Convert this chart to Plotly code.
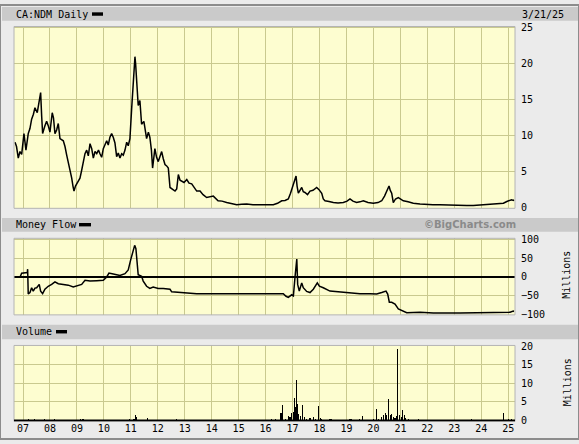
import plotly.graph_objects as go

W, H = 579, 444

# ---------------- data ----------------
price_dates = [
    "2006-09-15", "2006-10-05", "2006-10-29", "2006-11-21", "2006-12-14", "2007-01-14", "2007-02-10",
    "2007-03-13", "2007-04-05", "2007-04-28", "2007-05-22", "2007-06-12", "2007-07-13", "2007-08-05",
    "2007-08-28", "2007-09-11", "2007-09-24", "2007-10-25", "2007-11-17", "2007-12-09", "2008-01-01",
    "2008-02-01", "2008-02-18", "2008-03-09", "2008-04-01", "2008-04-23", "2008-05-16", "2008-06-30",
    "2008-07-23", "2008-08-15", "2008-09-09", "2008-09-29", "2008-10-22", "2008-11-08", "2008-11-22",
    "2008-12-12", "2008-12-28", "2009-01-22", "2009-02-11", "2009-03-06", "2009-03-28", "2009-04-20",
    "2009-05-13", "2009-06-04", "2009-06-27", "2009-07-20", "2009-08-11", "2009-09-03", "2009-09-26",
    "2009-10-20", "2009-11-09", "2009-12-02", "2009-12-24", "2010-01-16", "2010-02-08", "2010-03-01",
    "2010-03-24", "2010-04-16", "2010-05-08", "2010-05-31", "2010-06-23", "2010-07-15", "2010-08-07",
    "2010-08-30", "2010-09-21", "2010-10-14", "2010-11-06", "2010-11-27", "2010-12-20", "2011-01-12",
    "2011-02-03", "2011-02-17", "2011-02-26", "2011-03-07", "2011-03-20", "2011-03-31", "2011-04-11",
    "2011-05-04", "2011-05-27", "2011-06-27", "2011-07-17", "2011-08-03", "2011-08-27", "2011-09-16",
    "2011-10-07", "2011-10-23", "2011-11-23", "2011-12-16", "2012-01-08", "2012-01-31", "2012-02-23",
    "2012-03-16", "2012-04-08", "2012-05-01", "2012-05-23", "2012-06-15", "2012-07-19", "2012-08-22",
    "2012-09-14", "2012-10-06", "2012-10-29", "2012-11-21", "2012-12-22", "2013-01-28", "2013-02-28",
    "2013-04-05", "2013-05-06", "2013-06-12", "2013-07-27", "2013-09-06", "2013-10-25", "2013-12-09",
    "2014-01-23", "2014-03-28", "2014-05-21", "2014-07-23", "2014-09-29", "2014-12-06", "2015-02-11",
    "2015-04-20", "2015-07-14", "2015-10-17", "2016-01-16", "2016-04-15", "2016-06-11", "2016-08-07",
    "2016-09-21", "2016-11-04", "2016-12-04", "2017-01-12", "2017-02-01", "2017-02-17", "2017-03-03",
    "2017-03-20", "2017-04-12", "2017-05-05", "2017-05-26", "2017-06-18", "2017-07-22", "2017-08-25",
    "2017-10-05", "2017-11-24", "2017-12-25", "2018-01-31", "2018-02-21", "2018-03-16", "2018-05-10",
    "2018-07-07", "2018-09-09", "2018-11-20", "2019-01-09", "2019-02-18", "2019-03-30", "2019-05-19",
    "2019-07-03", "2019-08-18", "2019-10-20", "2019-12-31", "2020-03-04", "2020-04-23", "2020-05-31",
    "2020-06-30", "2020-07-17", "2020-07-31", "2020-08-17", "2020-09-05", "2020-09-27", "2020-10-27",
    "2020-12-04", "2021-02-10", "2021-04-15", "2021-06-25", "2021-09-24", "2021-12-24", "2022-03-18",
    "2022-06-21", "2022-09-24", "2022-12-19", "2023-03-20", "2023-06-18", "2023-09-16", "2023-12-16",
    "2024-03-16", "2024-06-14", "2024-09-13", "2024-10-28", "2024-12-13", "2025-01-20", "2025-02-16",
    "2025-03-11", "2025-03-21",
]
price_values = [
    9.1, 8.5, 6.9, 7.8, 7.4, 10.3, 8.0,
    10.3, 11.0, 12.3, 13.0, 13.9, 13.2, 14.5,
    16.0, 12.7, 10.3, 11.4, 12.0, 11.4, 10.5,
    13.2, 12.5, 10.3, 10.8, 11.7, 9.6, 9.3,
    8.5, 7.3, 6.2, 5.5, 4.1, 3.0, 2.3,
    3.0, 3.3, 3.8, 4.1, 5.2, 6.4, 7.5,
    8.0, 7.2, 8.9, 8.2, 6.9, 7.8, 7.5,
    8.0, 7.5, 7.0, 8.2, 8.8, 9.3, 8.7,
    9.8, 10.3, 9.8, 9.0, 7.1, 7.6, 6.9,
    7.5, 7.3, 8.0, 9.1, 8.6, 9.6, 13.7,
    17.8, 19.5, 21.0, 20.0, 18.3, 16.0, 14.2,
    14.9, 11.6, 12.0, 10.5, 9.6, 10.5, 9.8,
    8.0, 5.5, 8.2, 7.0, 6.4, 7.0, 7.8,
    6.8, 6.0, 5.8, 5.5, 2.8, 2.6, 2.3,
    2.6, 4.6, 3.8, 3.7, 3.5, 3.9, 3.4,
    3.3, 2.9, 2.3, 2.3, 1.8, 1.4, 1.5,
    1.6, 0.95, 0.9, 0.7, 0.55, 0.4, 0.45,
    0.5, 0.4, 0.4, 0.45, 0.4, 0.6, 0.95,
    1.0, 1.2, 2.0, 3.2, 3.6, 4.4, 3.0,
    2.0, 2.4, 2.8, 2.2, 2.1, 1.8, 2.3,
    2.4, 2.8, 2.5, 2.0, 1.2, 0.95, 0.85,
    0.7, 0.65, 0.7, 0.9, 1.2, 0.9, 0.7,
    0.8, 0.95, 0.7, 0.6, 0.7, 0.95, 1.6,
    2.3, 2.6, 3.0, 2.4, 2.0, 0.7, 1.2,
    1.4, 0.95, 0.8, 0.6, 0.5, 0.4, 0.4,
    0.4, 0.35, 0.3, 0.25, 0.28, 0.3, 0.35,
    0.4, 0.45, 0.5, 0.6, 0.85, 0.95, 1.1,
    1.0, 1.1,
]

mf_dates = [
    "2006-09-01", "2006-11-21", "2006-12-14", "2007-01-28", "2007-02-28", "2007-03-05", "2007-03-13",
    "2007-04-05", "2007-04-28", "2007-05-20", "2007-06-12", "2007-07-05", "2007-08-09", "2007-08-28",
    "2007-09-24", "2007-10-25", "2007-12-09", "2008-01-24", "2008-03-09", "2008-04-23", "2008-07-23",
    "2008-09-06", "2008-11-12", "2008-12-28", "2009-03-06", "2009-04-20", "2009-06-27", "2009-09-26",
    "2009-12-24", "2010-02-08", "2010-03-11", "2010-05-08", "2010-08-07", "2010-10-14", "2010-11-27",
    "2010-12-30", "2011-01-26", "2011-02-22", "2011-03-11", "2011-03-24", "2011-04-11", "2011-05-27",
    "2011-06-18", "2011-08-03", "2011-09-16", "2011-10-31", "2012-01-08", "2012-03-16", "2012-06-15",
    "2012-07-08", "2012-10-29", "2013-03-13", "2013-06-12", "2014-09-06", "2015-10-17", "2016-07-15",
    "2016-08-28", "2016-10-04", "2016-11-04", "2016-12-20", "2017-01-12", "2017-02-04", "2017-02-27",
    "2017-03-11", "2017-04-02", "2017-05-05", "2017-05-26", "2017-07-11", "2017-08-25", "2017-10-09",
    "2017-12-02", "2017-12-30", "2018-02-21", "2018-05-23", "2018-08-22", "2019-01-05", "2019-07-03",
    "2019-11-16", "2020-02-15", "2020-04-23", "2020-06-20", "2020-07-13", "2020-08-04", "2020-09-05",
    "2020-10-20", "2020-12-04", "2021-02-10", "2021-03-28", "2021-09-24", "2022-03-23", "2023-03-20",
    "2023-09-16", "2024-06-14", "2025-01-26", "2025-03-11", "2025-03-21",
]
mf_values = [
    -1, -1, 10, 10.5, 12, 21, -46,
    -42, -29, -38, -30, -29, -20, -38,
    -45, -33, -25, -20, -13, -18, -20,
    -22, -27, -25, -20, -9, -11, -10,
    -9, 0, 10.5, 8, 4, 9, 19,
    46, 63, 85, 76, 41, 6, 2,
    -11, -25, -31, -27, -31, -31, -33,
    -40, -42, -44, -45, -45, -46, -46,
    -45, -52, -55, -48, -51, 2, 48,
    -20, -38, -16, -29, -39, -42, -33,
    -16, -25, -29, -38, -40, -42, -45,
    -45, -46, -42, -38, -46, -68, -68,
    -73, -86, -92, -96, -95, -97, -97,
    -96, -96, -95, -92, -93,
]

vol_dates = [
    "2007-03-13", "2007-06-02", "2007-10-16", "2008-02-28", "2009-02-21", "2009-03-24", "2010-12-10",
    "2011-02-13", "2011-03-03", "2011-03-20", "2011-08-12", "2012-09-14",
    "2016-03-25", "2016-05-08", "2016-07-15", "2016-07-28", "2016-08-15", "2016-09-21", "2016-11-04",
    "2016-11-27", "2016-12-20", "2017-01-11", "2017-01-25", "2017-02-08", "2017-02-21", "2017-03-07",
    "2017-03-26", "2017-04-12", "2017-05-13", "2017-06-05", "2017-07-11", "2017-08-25", "2017-10-09",
    "2017-11-01", "2017-12-16", "2018-01-08", "2018-01-31", "2018-05-23", "2018-06-15", "2019-02-18",
    "2019-03-13", "2019-07-03", "2019-08-04", "2019-09-09", "2019-12-31", "2020-02-09", "2020-03-07",
    "2020-04-23", "2020-05-15", "2020-06-07", "2020-06-30", "2020-07-22", "2020-08-14", "2020-09-05",
    "2020-09-27", "2020-10-20", "2020-11-12", "2020-11-26", "2020-12-17", "2021-01-10", "2021-02-02",
    "2021-02-20", "2021-03-13", "2021-04-18", "2021-06-03", "2021-09-01", "2023-08-29", "2024-10-28",
    "2025-01-03", "2025-02-18",
]
vol_values = [
    0.3, 0.3, 0.3, 0.3, 0.3, 0.3, 0.3,
    0.5, 1.6, 0.8, 0.6, 0.3,
    0.3, 0.4, 0.5, 1.9, 4.2, 0.3, 1.3,
    1.0, 2.0, 2.2, 6.0, 3.5, 11.0, 4.4,
    1.8, 1.2, 4.2, 0.9, 0.5, 0.6, 0.8,
    0.5, 3.9, 0.6, 0.3, 0.5, 0.3, 0.3,
    0.3, 0.3, 1.3, 0.2, 0.4, 3.2, 0.5,
    1.0, 1.5, 2.0, 1.5, 5.8, 1.5, 1.8,
    1.0, 0.6, 1.2, 19.3, 1.5, 0.8, 2.9,
    1.5, 0.6, 0.3, 0.2, 0.5, 0.3, 2.1,
    0.3, 0.4,
]

year_ticks = [f"{y}-01-01" for y in range(2007, 2026)]
year_labels = [f"{y % 100:02d}" for y in range(2007, 2026)]

price_ticks = [0, 5, 10, 15, 20, 25]
mf_ticks = [-100, -50, 0, 50, 100]
vol_ticks = [0, 5, 10, 15, 20]

# ---------------- layout helpers ----------------
def px(x):
    return x / W


def py(y):
    return 1 - y / H


MONO = "DejaVu Sans Mono"
PLOT_BG = "#fdfdd0"
GRID = "#c9c98f"
X_DOM = [px(14), px(515)]
X_RANGE = ["2006-09-01", "2025-04-03"]

fig = go.Figure()

fig.add_trace(go.Scatter(x=price_dates, y=price_values, mode="lines",
                         line=dict(color="black", width=1.5), xaxis="x", yaxis="y",
                         hoverinfo="skip", showlegend=False))
fig.add_trace(go.Scatter(x=mf_dates, y=mf_values, mode="lines",
                         line=dict(color="black", width=1.5), xaxis="x2", yaxis="y2",
                         hoverinfo="skip", showlegend=False))
fig.add_trace(go.Bar(x=vol_dates, y=vol_values, marker=dict(color="black", line=dict(width=0)),
                     width=[14 * 86400000] * len(vol_dates), xaxis="x3", yaxis="y3",
                     hoverinfo="skip", showlegend=False))

xcommon = dict(type="date", range=X_RANGE, domain=X_DOM, tickmode="array",
               tickvals=year_ticks, ticktext=year_labels, showgrid=True, gridcolor=GRID,
               gridwidth=1, zeroline=False, showline=False, ticks="", fixedrange=True)
ycommon = dict(side="right", showgrid=True, gridcolor=GRID, gridwidth=1, ticks="",
               showline=False, tickfont=dict(family=MONO, size=10, color="black"),
               ticklabelstandoff=5, fixedrange=True)

fig.update_layout(
    width=W, height=H,
    margin=dict(l=0, r=0, t=0, b=0),
    paper_bgcolor="#ebebeb",
    plot_bgcolor=PLOT_BG,
    bargap=0,
    xaxis=dict(**xcommon, anchor="y", showticklabels=False),
    xaxis2=dict(**xcommon, anchor="y2", showticklabels=False),
    xaxis3=dict(**xcommon, anchor="y3", showticklabels=True,
                tickfont=dict(family=MONO, size=10, color="black")),
    yaxis=dict(**ycommon, anchor="x", domain=[py(208), py(22)], range=[-0.1, 25.2],
               tickvals=price_ticks, zeroline=False),
    yaxis2=dict(**ycommon, anchor="x2", domain=[py(317), py(238.7)], range=[-102, 104],
                tickvals=mf_ticks, zeroline=True, zerolinecolor="black", zerolinewidth=1.5),
    yaxis3=dict(**ycommon, anchor="x3", domain=[py(426), py(348.3)], range=[-0.26, 20.2],
                tickvals=vol_ticks, zeroline=False),
)

shapes = []
# outer frame
shapes.append(dict(type="rect", xref="paper", yref="paper", x0=0, x1=1, y0=0, y1=1,
                   line=dict(color="#8c8c8c", width=2), layer="below"))
# header bars
for y0, y1 in [(2, 16), (218, 232), (327, 342)]:
    shapes.append(dict(type="rect", xref="paper", yref="paper", x0=px(2), x1=px(578),
                       y0=py(y1), y1=py(y0), fillcolor="#cacaca", line=dict(width=0),
                       layer="below"))
# plot area borders
for top, bot in [(22, 208), (238.7, 317), (348.3, 426)]:
    shapes.append(dict(type="rect", xref="paper", yref="paper", x0=px(14), x1=px(515),
                       y0=py(bot), y1=py(top), line=dict(color="#b4b4b4", width=1),
                       fillcolor="rgba(0,0,0,0)", layer="above"))
# legend dashes
for x0, x1, y0, y1 in [(92, 103, 7.5, 11), (79, 91, 223, 226.5), (56, 67, 332.5, 336)]:
    shapes.append(dict(type="rect", xref="paper", yref="paper", x0=px(x0), x1=px(x1),
                       y0=py(y1), y1=py(y0), fillcolor="black", line=dict(width=0)))
# volume baseline
shapes.append(dict(type="line", xref="x3", yref="y3", x0=X_RANGE[0], x1=X_RANGE[1], y0=0, y1=0,
                   line=dict(color="black", width=2)))
fig.update_layout(shapes=shapes)

ann = []
def text(t, x, y, xanchor="left", size=10, color="black", family=MONO, angle=0, bold=False):
    ann.append(dict(text=f"<b>{t}</b>" if bold else t, xref="paper", yref="paper", x=px(x), y=py(y),
                    xanchor=xanchor, yanchor="middle", showarrow=False, textangle=angle,
                    font=dict(family=family, size=size, color=color)))

text("CA:NDM Daily", 14, 9.5)
text("3/21/25", 566, 9.5, xanchor="right")
text("Money Flow", 14, 225)
text("Volume", 14, 334.5)
text("©BigCharts.com", 470, 225, xanchor="center", size=10, color="#8a8a8a",
     family="DejaVu Sans", bold=True)
text("Millions", 567, 276, xanchor="center", angle=-90)
text("Millions", 567, 386, xanchor="center", angle=-90)
fig.update_layout(annotations=ann)

fig.write_html("out.html", config={"displayModeBar": False, "staticPlot": True},
               post_script="document.body.style.margin='0';")
